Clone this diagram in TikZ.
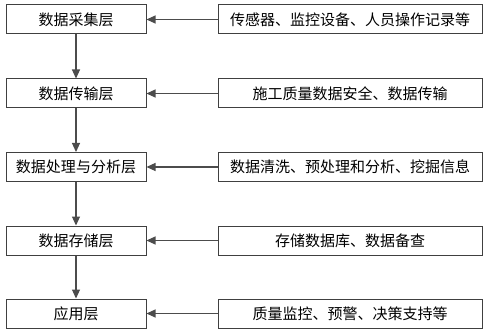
\documentclass[tikz,border=0pt]{standalone}
\usepackage{fontspec}
\newfontfamily\cjk{Noto Sans CJK SC}
\usetikzlibrary{arrows.meta}
\tikzset{
  layer/.style={draw=black!75,line width=1pt,minimum width=140pt,minimum height=29pt,inner sep=0pt,font=\cjk\fontsize{15}{17}\selectfont},
  source/.style={layer,minimum width=264pt},
  link/.style={draw=black!70,line width=1.1pt,-{Triangle[length=9pt,width=8pt]}}
}
\begin{document}
\begin{tikzpicture}[x=1pt,y=-1pt]
            \useasboundingbox (0,0) rectangle (487,334);
            \node[layer] (L1) at (76,19.5){数据采集层};
            \node[layer] (L2) at (76,93.5){数据传输层};
            \node[layer] (L3) at (76,167){数据处理与分析层};
            \node[layer] (L4) at (76,240.5){数据存储层};
            \node[layer] (L5) at (76,313.5){应用层};
            \node[source] (S1) at (350,19.5){传感器、监控设备、人员操作记录等};
            \node[source] (S2) at (350,93.5){施工质量数据安全、数据传输};
            \node[source] (S3) at (350,167){数据清洗、预处理和分析、挖掘信息};
            \node[source] (S4) at (350,240.5){存储数据库、数据备查};
            \node[source] (S5) at (350,313.5){质量监控、预警、决策支持等};
            \foreach \i/\j in {1/2,2/3,3/4,4/5}
                \draw[link] (L\i)to(L\j);
            \foreach \i in {1,...,5}
                \draw[link] (S\i)to(L\i);
        \end{tikzpicture}
\end{document}
